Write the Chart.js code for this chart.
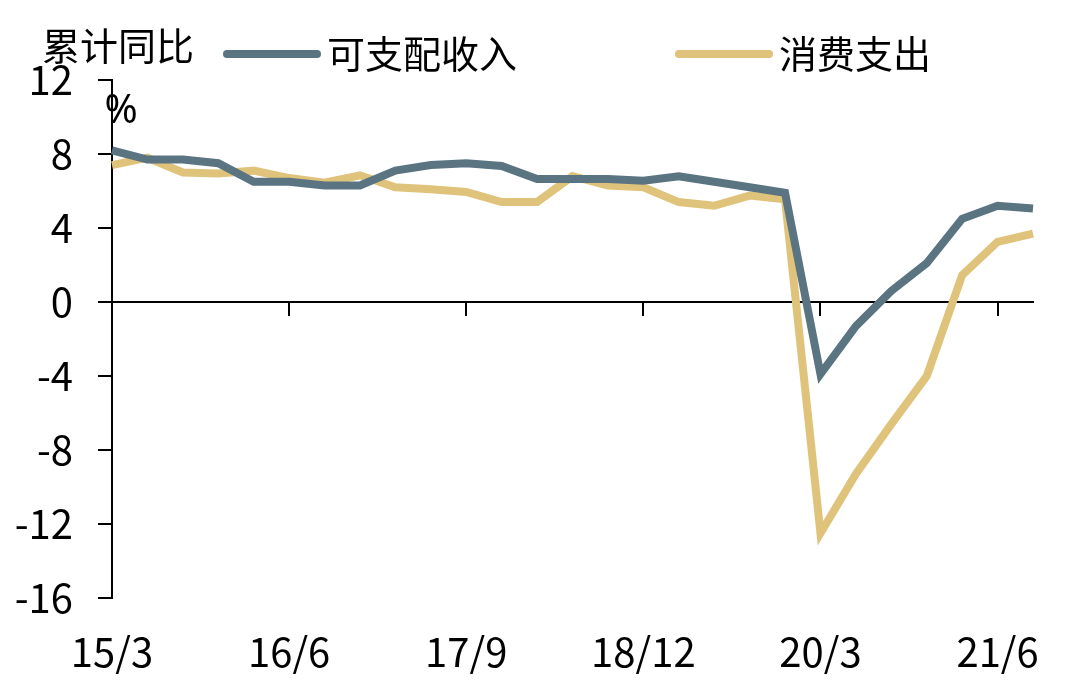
<!DOCTYPE html>
<html>
<head>
<meta charset="utf-8">
<script src="https://cdn.jsdelivr.net/npm/chart.js@4.4.0/dist/chart.umd.min.js"></script>
<style>
  body { margin: 0; background: #fff; }
  #wrap { width: 1080px; height: 687px; }
</style>
</head>
<body>
<div id="wrap"><canvas id="chartIncome"></canvas></div>
<script>
// quarters 2015Q1 .. 2021Q3
var quarters = ["15/3", "15/6", "15/9", "15/12", "16/3", "16/6", "16/9", "16/12", "17/3", "17/6",
  "17/9", "17/12", "18/3", "18/6", "18/9", "18/12", "19/3", "19/6", "19/9", "19/12",
  "20/3", "20/6", "20/9", "20/12", "21/3", "21/6", "21/9"];
var shownLabels = ["15/3", "16/6", "17/9", "18/12", "20/3", "21/6"];
var yTicks = [-16, -12, -8, -4, 0, 4, 8, 12];

var income = [8.2, 7.7, 7.7, 7.5, 6.5, 6.5, 6.3, 6.3, 7.1, 7.4,
  7.5, 7.35, 6.65, 6.65, 6.65, 6.55, 6.8, 6.5, 6.2, 5.9,
  -3.9, -1.3, 0.6, 2.1, 4.5, 5.2, 5.05];
var spending = [7.4, 7.8, 7.0, 6.95, 7.1, 6.7, 6.45, 6.85, 6.2, 6.1,
  5.95, 5.4, 5.4, 6.8, 6.3, 6.2, 5.4, 5.2, 5.75, 5.55,
  -12.5, -9.3, -6.6, -4.0, 1.45, 3.25, 3.7];

var seriesNames = ["可支配收入", "消费支出"];
var unitTitle = "累计同比";
var unitSign = "%";

var FONT = "'Noto Sans CJK SC', 'Noto Sans', sans-serif";
var BLUE = "#5a7482";
var GOLD = "#e0c37b";

Chart.defaults.color = "#000";
Chart.defaults.font.family = FONT;

// header: unit title, legend lines and the % sign
var headerPlugin = {
  id: "header",
  afterDraw: function (chart) {
    var ctx = chart.ctx;
    var area = chart.chartArea;
    ctx.save();
    ctx.fillStyle = "#000";
    ctx.font = "38px " + FONT;
    ctx.textBaseline = "middle";
    ctx.textAlign = "left";
    ctx.fillText(unitTitle, 42, 46);

    var starts = [223, 675];
    chart.data.datasets.forEach(function (ds, i) {
      var x = starts[i];
      ctx.strokeStyle = ds.borderColor;
      ctx.lineWidth = 8;
      ctx.lineCap = "round";
      ctx.beginPath();
      ctx.moveTo(x + 4, 54);
      ctx.lineTo(x + 94, 54);
      ctx.stroke();
      ctx.fillText(ds.label, x + 104, 54);
    });

    ctx.font = "40px 'Noto Sans', sans-serif";
    ctx.textAlign = "center";
    ctx.fillText(unitSign, area.left + 9, 112);
    ctx.restore();
  }
};

var chartIncome = new Chart(document.getElementById("chartIncome").getContext("2d"), {
  type: "line",
  data: {
    labels: quarters,
    datasets: [{
      label: seriesNames[0],
      data: income,
      borderColor: BLUE,
      backgroundColor: BLUE,
      borderWidth: 8,
      pointRadius: 0,
      tension: 0
    }, {
      label: seriesNames[1],
      data: spending,
      borderColor: GOLD,
      backgroundColor: GOLD,
      borderWidth: 8,
      pointRadius: 0,
      tension: 0
    }]
  },
  options: {
    responsive: true,
    maintainAspectRatio: false,
    animation: false,
    layout: { padding: { top: 80, right: 47, left: 0, bottom: 0 } },
    plugins: {
      legend: { display: false },
      tooltip: { enabled: false }
    },
    scales: {
      x: {
        position: { y: 0 },
        offset: false,
        border: { color: "#000", width: 2 },
        grid: {
          drawOnChartArea: false,
          drawTicks: true,
          tickLength: 13,
          lineWidth: 2,
          color: function (c) {
            var lbl = quarters[c.index];
            return (c.index > 0 && shownLabels.indexOf(lbl) >= 0) ? "#000" : "rgba(0,0,0,0)";
          }
        },
        ticks: { display: false }
      },
      x2: {
        type: "category",
        position: "bottom",
        offset: false,
        labels: quarters,
        border: { display: false },
        grid: { display: false, drawTicks: false },
        afterFit: function (scale) { scale.height = 89; },
        ticks: {
          autoSkip: false,
          maxRotation: 0,
          padding: 30,
          font: { size: 40 },
          callback: function (v, i) {
            return shownLabels.indexOf(quarters[i]) >= 0 ? quarters[i] : "";
          }
        }
      },
      y: {
        min: yTicks[0],
        max: yTicks[yTicks.length - 1],
        afterFit: function (scale) { scale.width = 112; },
        afterBuildTicks: function (scale) {
          scale.ticks = yTicks.map(function (v) { return { value: v }; });
        },
        border: { color: "#000", width: 2 },
        grid: {
          drawOnChartArea: false,
          drawTicks: true,
          tickLength: 14,
          lineWidth: 2,
          color: "#000"
        },
        ticks: {
          padding: 25,
          font: { size: 40 }
        }
      }
    }
  },
  plugins: [headerPlugin]
});
</script>
</body>
</html>
